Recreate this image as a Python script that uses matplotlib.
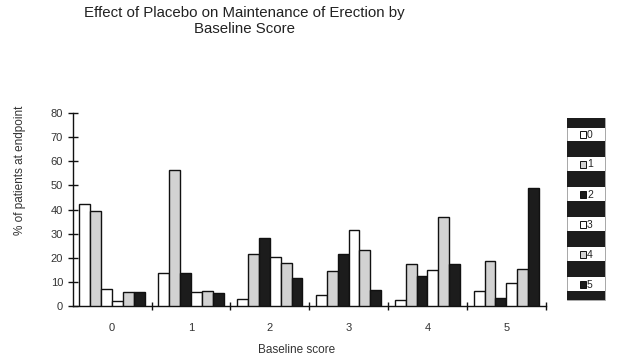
import matplotlib
matplotlib.use("Agg")
import matplotlib.pyplot as plt
from matplotlib.patches import Rectangle
import numpy as np

plt.rcParams['font.family'] = ['Liberation Sans', 'DejaVu Sans']

baseline = ["0", "1", "2", "3", "4", "5"]
endpoint = ["0", "1", "2", "3", "4", "5"]
# % of patients at endpoint score, rows = baseline score, cols = endpoint score
pct = [
    [42.2, 39.4, 6.9, 1.9, 5.9, 5.9],
    [13.6, 56.3, 13.6, 5.9, 6.4, 5.3],
    [2.8, 21.7, 28.1, 20.2, 17.7, 11.8],
    [4.4, 14.7, 21.4, 31.7, 23.1, 6.8],
    [2.4, 17.3, 12.4, 14.9, 36.9, 17.4],
    [6.2, 18.5, 3.3, 9.4, 15.5, 49.0],
]
colors = ["white", "#d2d2d2", "#1c1c1c", "white", "#d2d2d2", "#1c1c1c"]

fig = plt.figure(figsize=(6.24, 3.6), dpi=100)
ax = fig.add_axes([0.1165, 0.15, 0.758, 0.536])

data = np.array(pct)
n = len(endpoint)
w = 0.138
x = np.arange(len(baseline))
for j in range(n):
    bars = ax.bar(x + (j - (n - 1) / 2) * w, data[:, j], width=w, color=colors[j],
                  edgecolor="#111111", linewidth=1.0, zorder=3)
    if j == 2:
        # the original prints this one bar unfilled
        bars[0].set_facecolor("white")

ax.set_xlim(-0.5, 5.5)
ax.set_ylim(0, 80)
ax.set_yticks(range(0, 81, 10))
ax.set_xticks(x)
ax.set_xticklabels(baseline)
ax.set_xticks(np.arange(0.5, 6, 1), minor=True)
ax.tick_params(axis="x", which="major", length=0, labelsize=8, pad=12, colors="#333333")
ax.tick_params(axis="x", which="minor", direction="inout", length=6, width=1, color="#111111")
ax.tick_params(axis="y", direction="inout", length=7, width=1, labelsize=8, color="#111111",
               labelcolor="#333333")
for s in ["top", "right"]:
    ax.spines[s].set_visible(False)
for s in ["left", "bottom"]:
    ax.spines[s].set_linewidth(1.0)
    ax.spines[s].set_color("#111111")

fig.text(20 / 624, 1 - 170 / 360, "% of patients at endpoint", rotation=90,
         ha="center", va="center", fontsize=8.5, color="#333333")
fig.text(297 / 624, 1 - 350 / 360, "Baseline score", ha="center", va="center",
         fontsize=8.5, color="#333333")
fig.text(244 / 624, 1 - 21 / 360, "Effect of Placebo on Maintenance of Erection by\nBaseline Score",
         ha="center", va="center", fontsize=10.8, color="#222222", linespacing=1.1)

# striped legend box
W, H = 624, 360
lx0, lx1 = 566.7, 605.0
fig.patches.append(Rectangle((lx0 / W, 1 - 300 / H), (lx1 - lx0) / W, (300 - 118.3) / H,
                             transform=fig.transFigure, facecolor="white",
                             edgecolor="#999999", linewidth=0.6))
bands = [(118.3, 127.7)] + [(140.7 + 30 * k, 157.3 + 30 * k) for k in range(5)] + [(290.7, 300)]
for t, b in bands:
    fig.patches.append(Rectangle((lx0 / W, 1 - b / H), (lx1 - lx0) / W, (b - t) / H,
                                 transform=fig.transFigure, facecolor="#1c1c1c",
                                 edgecolor="none"))
for j, lab in enumerate(endpoint):
    yc = 134.5 + 30 * j
    fig.patches.append(Rectangle((579.5 / W, 1 - (yc + 3) / H), 6.5 / W, 6.5 / H,
                                 transform=fig.transFigure, facecolor=colors[j],
                                 edgecolor="#111111", linewidth=0.7))
    fig.text(587 / W, 1 - yc / H, lab, ha="left", va="center", fontsize=7.5, color="#222222")

fig.savefig("out.png", dpi=100)
